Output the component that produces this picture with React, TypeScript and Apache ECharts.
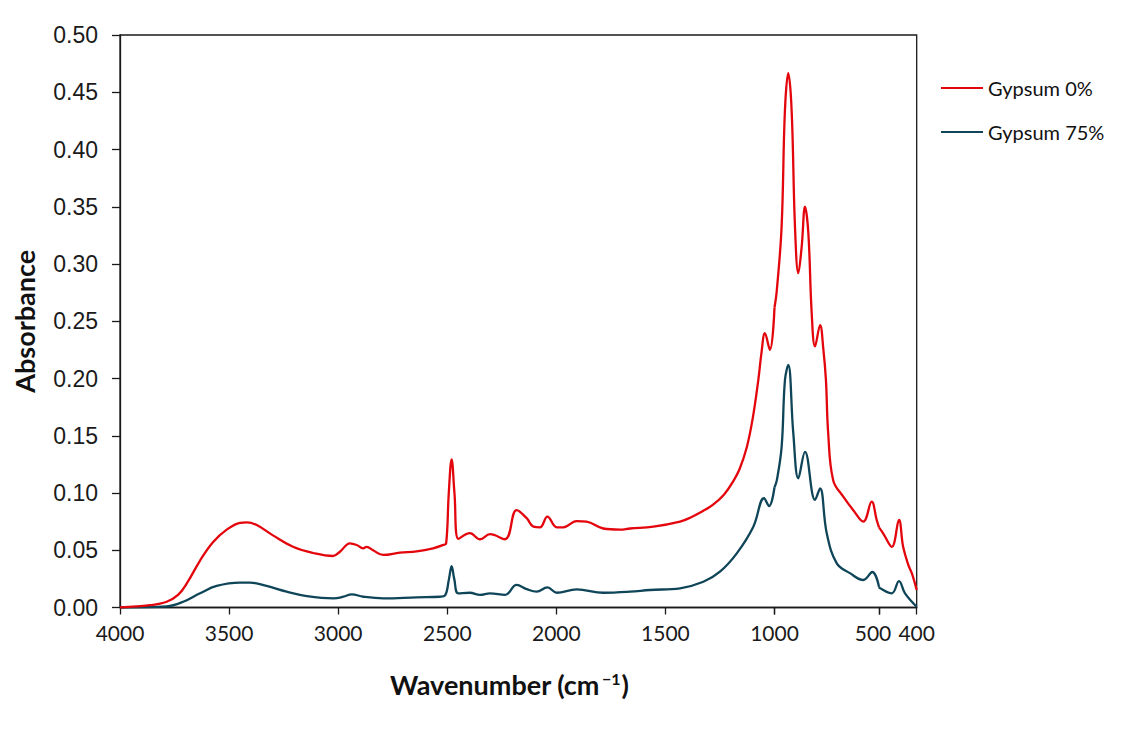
import React, { useEffect, useRef } from "react";
import * as echarts from "echarts";

// Gypsum 0% : wavenumber (cm-1) and absorbance
const wave0 = [
  4000, 3862, 3786, 3734, 3694, 3633, 3574, 3511, 3450, 3419, 3373, 3299, 3207, 3115, 3024,
  2992, 2946, 2915, 2886, 2869, 2840, 2794, 2717, 2640, 2565, 2518, 2505, 2493, 2480, 2467,
  2449, 2396, 2350, 2304, 2235, 2182, 2136, 2105, 2075, 2041, 1998, 1968, 1907, 1861, 1785,
  1708, 1662, 1555, 1433, 1380, 1330, 1280, 1230, 1190, 1160, 1127, 1100, 1074, 1060, 1044,
  1021, 1000, 989, 966, 950, 934, 918, 902, 886, 870, 854, 838, 822, 806, 782, 766, 754, 743,
  719, 671, 623, 575, 535, 511, 500, 489, 466, 447, 436, 422, 413, 400,
];
const abs0 = [
  0.0, 0.002, 0.005, 0.011, 0.021, 0.041, 0.057, 0.068, 0.074, 0.0744, 0.072, 0.063, 0.053,
  0.0476, 0.045, 0.0487, 0.056, 0.0546, 0.0517, 0.053, 0.05, 0.0459, 0.0479, 0.049, 0.0517,
  0.0546, 0.056, 0.1, 0.1294, 0.1, 0.06, 0.065, 0.0596, 0.064, 0.0596, 0.085, 0.078, 0.0706,
  0.07, 0.0793, 0.07, 0.07, 0.0755, 0.075, 0.069, 0.068, 0.069, 0.0706, 0.075, 0.079, 0.084,
  0.09, 0.099, 0.11, 0.121, 0.14, 0.165, 0.199, 0.222, 0.2395, 0.225, 0.262, 0.277, 0.3326,
  0.4345, 0.4666, 0.434, 0.3326, 0.292, 0.315, 0.35, 0.3268, 0.257, 0.228, 0.2467, 0.225,
  0.199, 0.152, 0.111, 0.0968, 0.085, 0.075, 0.0924, 0.0764, 0.07, 0.0648, 0.053, 0.0764,
  0.053, 0.037, 0.03, 0.0153,
];

// Gypsum 75% : wavenumber (cm-1) and absorbance
const wave75 = [
  4000, 3786, 3710, 3633, 3557, 3450, 3404, 3328, 3236, 3144, 3022, 2976, 2938, 2885, 2793,
  2640, 2533, 2510, 2492, 2480, 2468, 2449, 2396, 2350, 2304, 2235, 2182, 2136, 2090, 2041,
  1998, 1907, 1785, 1662, 1571, 1433, 1326, 1250, 1173, 1097, 1048, 1025, 1000, 989, 966,
  950, 934, 910, 886, 854, 806, 782, 750, 702, 639, 575, 532, 500, 497, 466, 447, 431, 400,
];
const abs75 = [
  0.0, 0.001, 0.005, 0.0124, 0.0188, 0.0217, 0.0217, 0.0188, 0.0138, 0.01, 0.008, 0.0094,
  0.0115, 0.0094, 0.008, 0.0089, 0.0094, 0.0105, 0.025, 0.0362, 0.025, 0.0124, 0.0129,
  0.011, 0.0124, 0.011, 0.0197, 0.016, 0.0138, 0.0176, 0.0129, 0.0159, 0.0129, 0.0138,
  0.0153, 0.0168, 0.0225, 0.0313, 0.0473, 0.0706, 0.0954, 0.0886, 0.105, 0.111, 0.14,
  0.1987, 0.2118, 0.152, 0.1128, 0.136, 0.094, 0.104, 0.0648, 0.0386, 0.03, 0.024, 0.031,
  0.018, 0.0168, 0.0124, 0.0231, 0.0124, 0.0007,
];

const seriesNames = ["Gypsum 0%", "Gypsum 75%"];
const seriesColors = ["#e3060c", "#0f4558"];
const yTicks = { min: 0, max: 0.5, step: 0.05 };

// axis pieces of the (non-uniform) wavenumber axis
const pieces = [
  { min: 1000, max: 4000, interval: 500, labels: [4000, 3500, 3000, 2500, 2000, 1500, 1000] },
  { min: 500, max: 1000, interval: 500, labels: [500] },
  { min: 400, max: 500, interval: 100, labels: [400] },
];
const pieceLayout = [
  { left: 120, width: 654.5, labelPad: [0, 0, 0, 0] },
  { left: 774.5, width: 104.5, labelPad: [0, 12, 0, 0] },
  { left: 879, width: 37.7, labelPad: [0, 0, 0, 0] },
];

const TOP = 35;
const HEIGHT = 572.5;
const AXIS_COLOR = "#1a1a1a";

export default function App() {
  const ref = useRef<HTMLDivElement>(null);

  useEffect(() => {
    if (!ref.current) return;
    const chart = echarts.init(ref.current, null, { renderer: "svg" });

    const datasets = [
      { w: wave0, a: abs0 },
      { w: wave75, a: abs75 },
    ];

    const grids: any[] = pieces.map((_, i) => ({
      left: pieceLayout[i].left,
      width: pieceLayout[i].width,
      top: TOP,
      height: HEIGHT,
      containLabel: false,
    }));
    grids.push({
      left: 120,
      width: 796.7,
      top: TOP,
      height: HEIGHT,
      show: true,
      borderColor: AXIS_COLOR,
      borderWidth: 1.3,
      backgroundColor: "transparent",
    });

    const xAxes: any[] = pieces.map((p, i) => ({
      type: "value",
      gridIndex: i,
      min: p.min,
      max: p.max,
      interval: p.interval,
      inverse: true,
      axisLine: { show: true, onZero: false, lineStyle: { color: AXIS_COLOR, width: 1.3 } },
      axisTick: { show: true, inside: false, length: 7, lineStyle: { color: AXIS_COLOR, width: 1.3 } },
      splitLine: { show: false },
      axisLabel: {
        show: true,
        margin: 14,
        fontFamily: "Lato",
        fontSize: 21,
        color: "#1a1a1a",
        padding: pieceLayout[i].labelPad,
        showMinLabel: true,
        showMaxLabel: true,
        formatter: (v: number) => (p.labels.indexOf(v) >= 0 ? String(v) : ""),
      },
    }));
    xAxes.push({ type: "value", gridIndex: 3, min: 0, max: 1, show: false });

    const yAxes: any[] = pieces.map((_, i) => ({
      type: "value",
      gridIndex: i,
      min: yTicks.min,
      max: yTicks.max,
      interval: yTicks.step,
      show: i === 0,
      name: i === 0 ? "Absorbance" : "",
      nameLocation: "middle",
      nameGap: 82,
      nameTextStyle: { fontFamily: "Lato", fontWeight: "bold", fontSize: 27, color: "#111" },
      axisLine: { show: true, lineStyle: { color: AXIS_COLOR, width: 1.3 } },
      axisTick: { show: true, inside: false, length: 8, lineStyle: { color: AXIS_COLOR, width: 1.3 } },
      splitLine: { show: false },
      axisLabel: {
        margin: 22,
        fontFamily: "Liberation Sans",
        fontSize: 23,
        color: "#1a1a1a",
        formatter: (v: number) => v.toFixed(2),
      },
    }));
    yAxes.push({ type: "value", gridIndex: 3, min: 0, max: 1, show: false });

    const series: any[] = [];
    datasets.forEach((d, si) => {
      pieces.forEach((p, pi) => {
        const data: number[][] = [];
        for (let k = 0; k < d.w.length; k++) {
          if (d.w[k] >= p.min && d.w[k] <= p.max) data.push([d.w[k], d.a[k]]);
        }
        series.push({
          type: "line",
          name: seriesNames[si],
          xAxisIndex: pi,
          yAxisIndex: pi,
          data,
          symbol: "none",
          smooth: 0.4,
          lineStyle: { color: seriesColors[si], width: 2.3 },
          itemStyle: { color: seriesColors[si] },
          z: 3 - si,
        });
      });
    });

    chart.setOption({
      animation: false,
      backgroundColor: "#ffffff",
      grid: grids,
      xAxis: xAxes,
      yAxis: yAxes,
      series,
      legend: {
        data: seriesNames,
        orient: "vertical",
        left: 936,
        top: 73,
        itemWidth: 42,
        itemHeight: 14,
        itemGap: 24,
        icon: "path://M0,6 L42,6 L42,8 L0,8 Z",
        textStyle: { fontFamily: "Lato", fontSize: 20, color: "#111" },
      },
      graphic: [
        {
          type: "text",
          left: 390,
          top: 670,
          style: {
            text: "{b|Wavenumber (cm}{s|−1}{b|)}",
            rich: {
              b: { fontFamily: "Lato", fontWeight: "bold", fontSize: 27, fill: "#111" },
              s: {
                fontFamily: "Lato",
                fontWeight: "bold",
                fontSize: 16,
                fill: "#111",
                verticalAlign: "top",
                padding: [0, 1, 12, 2],
              },
            },
          },
        },
      ],
    });

    return () => chart.dispose();
  }, []);

  return (
    <div
      ref={ref}
      style={{ position: "fixed", left: 0, top: 0, width: 1123, height: 740, background: "#fff" }}
    />
  );
}
